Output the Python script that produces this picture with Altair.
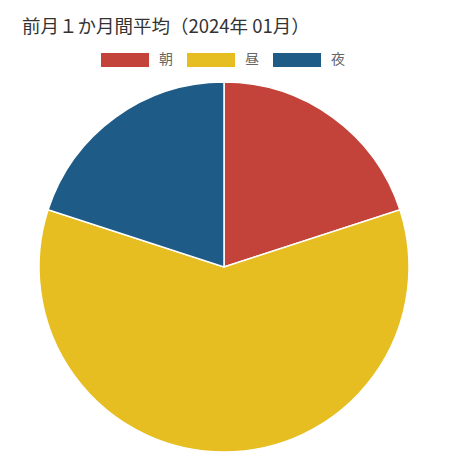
import altair as alt
import pandas as pd

# 時間帯ごとの割合（%）
periods = ["朝", "昼", "夜"]
shares = [20, 60, 20]
colors = ["#c3433a", "#e6be22", "#1f5b87"]

TITLE = "前月１か月間平均（2024年 01月）"
FONT = "Noto Sans CJK JP"

df = pd.DataFrame({"period": periods, "share": shares, "order": range(len(periods))})

# 凡例の横長の四角形（-1..1 の正方形内で定義）
RECT = "M-1,-0.29H1V0.29H-1Z"

chart = (
    alt.Chart(df)
    .mark_arc(radius=185, stroke="#ffffff", strokeWidth=1.5)
    .encode(
        theta=alt.Theta("share:Q", stack=True),
        order=alt.Order("order:Q"),
        color=alt.Color(
            "period:N",
            sort=periods,
            scale=alt.Scale(domain=periods, range=colors),
            legend=alt.Legend(
                title=None,
                orient="none",
                legendX=93,
                legendY=-42,
                direction="horizontal",
                symbolType=RECT,
                symbolSize=2304,
                symbolStrokeWidth=0,
                symbolOpacity=1,
                labelFont=FONT,
                labelFontSize=14,
                labelColor="#666666",
                labelOffset=10,
                columnPadding=14,
            ),
        ),
    )
    .properties(
        width=432,
        height=378,
        autosize=alt.AutoSizeParams(type="none"),
        padding={"left": 0, "top": 70, "right": 0, "bottom": 5},
        title=alt.TitleParams(
            TITLE,
            anchor="start",
            font=FONT,
            fontSize=18.5,
            fontWeight="normal",
            color="#333333",
            dx=14,
            offset=0,
        ),
    )
    .configure_view(stroke=None)
)

chart.save("out.html", embed_options={"renderer": "svg", "actions": False})
